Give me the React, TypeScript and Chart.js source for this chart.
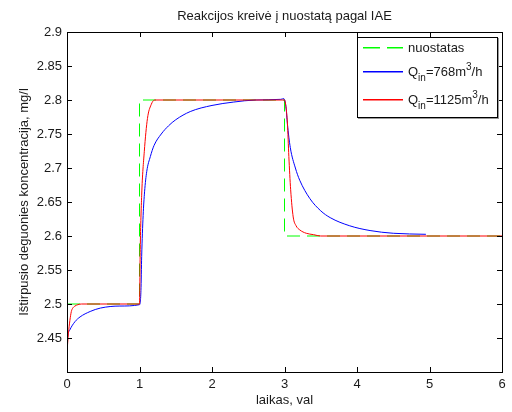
import React, { useEffect, useRef } from "react";
import { Chart, registerables } from "chart.js";

Chart.register(...registerables);

// Setpoint (nuostatas)
const setT = [0, 1, 1, 3, 3, 6];
const setV = [2.5, 2.5, 2.8, 2.8, 2.6, 2.6];

// Q_in = 768 m3/h
const t768 = [0, 0.01, 0.04, 0.11, 0.18, 0.32, 0.46, 0.73, 1.0, 1.02, 1.03, 1.05, 1.07, 1.1, 1.15, 1.2, 1.3, 1.4, 1.5, 1.7, 2.0, 2.3, 2.6, 2.95, 2.99, 3.02, 3.04, 3.08, 3.15, 3.21, 3.35, 3.5, 3.63, 3.9, 4.18, 4.5, 4.95];
const q768 = [2.44, 2.453, 2.462, 2.474, 2.481, 2.489, 2.494, 2.497, 2.499, 2.52, 2.57, 2.63, 2.665, 2.695, 2.717, 2.733, 2.75, 2.762, 2.771, 2.783, 2.792, 2.797, 2.8, 2.801, 2.802, 2.79, 2.765, 2.73, 2.7, 2.682, 2.655, 2.637, 2.627, 2.615, 2.608, 2.604, 2.6025];

// Q_in = 1125 m3/h
const t1125 = [0, 0.02, 0.04, 0.06, 0.08, 0.11, 0.15, 0.2, 1.0, 1.01, 1.03, 1.066, 1.11, 1.16, 1.21, 3.0, 3.02, 3.04, 3.06, 3.085, 3.12, 3.16, 3.21, 3.3, 3.4, 3.5, 6.0];
const q1125 = [2.43, 2.457, 2.476, 2.489, 2.494, 2.497, 2.499, 2.5, 2.5, 2.58, 2.66, 2.724, 2.773, 2.793, 2.8, 2.8, 2.79, 2.766, 2.717, 2.668, 2.628, 2.615, 2.609, 2.604, 2.602, 2.6, 2.6];

const xTicks = [0, 1, 2, 3, 4, 5, 6];
const yTicks = [2.45, 2.5, 2.55, 2.6, 2.65, 2.7, 2.75, 2.8, 2.85, 2.9];

const titleText = "Reakcijos kreivė į nuostatą pagal IAE";
const xTitle = "laikas, val";
const yTitle = "Ištirpusio deguonies koncentracija, mg/l";
const legendSet = "nuostatas";

const FONT = "'Liberation Sans', Arial, sans-serif";
const TXT = "#1a1a1a";
const GREEN = "#00ff00";
const BLUE = "#0000ff";
const RED = "#ff0000";

const pts = (xs: number[], ys: number[]) => xs.map((x, i) => ({ x, y: ys[i] }));

const decorPlugin = {
  id: "decor",
  afterDatasetsDraw(chart: any) {
    const { ctx, chartArea: a, scales } = chart;
    const xs = scales.x, ys = scales.y;
    ctx.save();
    ctx.setLineDash([]);
    ctx.strokeStyle = "#000";
    ctx.lineWidth = 1;
    ctx.strokeRect(Math.round(a.left) + 0.5, Math.round(a.top) + 0.5, Math.round(a.right - a.left), Math.round(a.bottom - a.top));
    ctx.beginPath();
    xTicks.forEach((v) => {
      const px = Math.round(xs.getPixelForValue(v)) + 0.5;
      ctx.moveTo(px, a.bottom); ctx.lineTo(px, a.bottom - 5);
      ctx.moveTo(px, a.top); ctx.lineTo(px, a.top + 5);
    });
    [2.4, ...yTicks].forEach((v) => {
      const py = Math.round(ys.getPixelForValue(v)) + 0.5;
      ctx.moveTo(a.left, py); ctx.lineTo(a.left + 5, py);
      ctx.moveTo(a.right, py); ctx.lineTo(a.right - 5, py);
    });
    ctx.stroke();

    ctx.fillStyle = TXT;
    ctx.font = `13px ${FONT}`;
    ctx.textAlign = "center";
    ctx.textBaseline = "alphabetic";
    const cx = (a.left + a.right) / 2;
    ctx.fillText(titleText, cx, 20);
    ctx.fillText(xTitle, cx, 404);
    ctx.save();
    ctx.translate(28, (a.top + a.bottom) / 2);
    ctx.rotate(-Math.PI / 2);
    ctx.fillText(yTitle, 0, 0);
    ctx.restore();

    // legend box
    const lx = 357, ly = 37, lw = 140, lh = 80;
    ctx.fillStyle = "#fff";
    ctx.fillRect(lx, ly, lw, lh);
    ctx.fillStyle = "#999";
    ctx.fillRect(lx + 1, ly + lh + 1, lw + 1, 1);
    ctx.fillRect(lx + lw + 1, ly + 1, 1, lh + 1);
    ctx.fillStyle = "#000";
    ctx.fillRect(lx, ly, lw + 1, 1);
    ctx.fillRect(lx, ly + lh, lw + 1, 1);
    ctx.fillRect(lx, ly, 1, lh + 1);
    ctx.fillRect(lx + lw, ly, 1, lh + 1);

    const sx0 = 363, sx1 = 403, tx = 408;
    // dashed green sample
    ctx.fillStyle = GREEN;
    ctx.fillRect(sx0, 47, 17, 1.5);
    ctx.fillRect(sx0 + 24, 47, sx1 - sx0 - 24, 1.5);
    ctx.textAlign = "left";
    ctx.fillStyle = TXT;
    ctx.font = `13px ${FONT}`;
    ctx.fillText(legendSet, tx, 52);

    const qRow = (yLine: number, base: number, num: string, color: string) => {
      ctx.fillStyle = color;
      ctx.fillRect(sx0, yLine, sx1 - sx0, 1.5);
      let x = tx;
      ctx.fillStyle = TXT;
      ctx.font = `13px ${FONT}`;
      ctx.fillText("Q", x, base); x += ctx.measureText("Q").width;
      ctx.font = `10px ${FONT}`;
      ctx.fillText("in", x, base + 5); x += ctx.measureText("in").width;
      ctx.font = `13px ${FONT}`;
      const s = "=" + num + "m";
      ctx.fillText(s, x, base); x += ctx.measureText(s).width;
      ctx.font = `10px ${FONT}`;
      ctx.fillText("3", x, base - 6); x += ctx.measureText("3").width;
      ctx.font = `13px ${FONT}`;
      ctx.fillText("/h", x, base);
    };
    qRow(71, 76, "768", BLUE);
    qRow(99, 104, "1125", RED);
    ctx.restore();
  },
};

export default function App() {
  const ref = useRef<HTMLCanvasElement>(null);
  useEffect(() => {
    document.body.style.margin = "0";
    const chart = new Chart(ref.current!, {
      type: "scatter",
      data: {
        datasets: [
          { label: "nuostatas", data: pts(setT, setV), showLine: true, borderColor: GREEN, borderWidth: 1, borderDash: [13, 7], pointRadius: 0, order: 3 },
          { label: "Qin=768m3/h", data: pts(t768, q768), showLine: true, borderColor: BLUE, borderWidth: 1, pointRadius: 0, cubicInterpolationMode: "monotone", order: 2 },
          { label: "Qin=1125m3/h", data: pts(t1125, q1125), showLine: true, borderColor: RED, borderWidth: 1, pointRadius: 0, cubicInterpolationMode: "monotone", order: 1 },
        ],
      },
      options: {
        animation: false,
        responsive: false,
        maintainAspectRatio: false,
        layout: { padding: { top: 32, right: 10, left: 0, bottom: 0 } },
        plugins: { legend: { display: false }, title: { display: false }, tooltip: { enabled: false } },
        scales: {
          x: {
            type: "linear", min: 0, max: 6,
            grid: { display: false, drawTicks: false },
            border: { display: false },
            afterBuildTicks: (s: any) => { s.ticks = xTicks.map((v) => ({ value: v })); },
            afterFit: (s: any) => { s.height = 40; },
            ticks: { padding: 5, color: TXT, font: { family: FONT, size: 13 }, maxRotation: 0, callback: (v: any) => String(v) },
          },
          y: {
            type: "linear", min: 2.4, max: 2.9,
            grid: { display: false, drawTicks: false },
            border: { display: false },
            afterBuildTicks: (s: any) => { s.ticks = yTicks.map((v) => ({ value: v })); },
            afterFit: (s: any) => { s.width = 67; },
            ticks: { padding: 5, color: TXT, font: { family: FONT, size: 13 }, callback: (v: any) => String(Math.round(v * 100) / 100) },
          },
        },
      },
      plugins: [decorPlugin],
    });
    return () => chart.destroy();
  }, []);
  return (
    <div style={{ position: "absolute", left: 0, top: 0, width: 512, height: 412 }}>
      <canvas ref={ref} width={512} height={412} style={{ width: 512, height: 412 }} />
    </div>
  );
}
